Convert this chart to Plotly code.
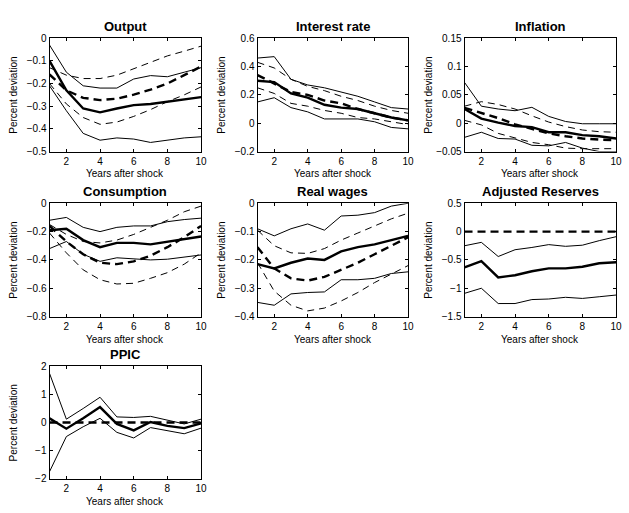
import plotly.graph_objects as go

years = list(range(1, 11))

# ---- Output
output_mid = [-0.10, -0.23, -0.31, -0.327, -0.31, -0.295, -0.29, -0.28, -0.27, -0.26]
output_hi = [-0.03, -0.15, -0.21, -0.22, -0.22, -0.18, -0.165, -0.17, -0.15, -0.13]
output_lo = [-0.21, -0.32, -0.42, -0.45, -0.44, -0.445, -0.46, -0.45, -0.44, -0.435]
output_model = [-0.16, -0.23, -0.263, -0.273, -0.267, -0.249, -0.227, -0.20, -0.163, -0.125]
output_model_hi = [-0.13, -0.163, -0.178, -0.178, -0.163, -0.135, -0.107, -0.078, -0.057, -0.035]
output_model_lo = [-0.20, -0.29, -0.35, -0.38, -0.37, -0.345, -0.315, -0.28, -0.25, -0.215]

# ---- Interest rate
rate_mid = [0.30, 0.29, 0.21, 0.18, 0.13, 0.11, 0.10, 0.07, 0.04, 0.02]
rate_hi = [0.46, 0.47, 0.31, 0.27, 0.25, 0.22, 0.19, 0.15, 0.11, 0.10]
rate_lo = [0.15, 0.18, 0.11, 0.08, 0.03, 0.03, 0.03, 0.01, -0.03, -0.04]
rate_model = [0.34, 0.28, 0.22, 0.20, 0.16, 0.14, 0.10, 0.07, 0.04, 0.02]
rate_model_hi = [0.43, 0.39, 0.31, 0.26, 0.23, 0.19, 0.16, 0.12, 0.09, 0.07]
rate_model_lo = [0.25, 0.21, 0.14, 0.12, 0.09, 0.07, 0.04, 0.03, 0.01, -0.01]

# ---- Inflation
infl_mid = [0.025, 0.008, 0.001, -0.005, -0.007, -0.016, -0.016, -0.021, -0.023, -0.027]
infl_hi = [0.072, 0.030, 0.025, 0.022, 0.028, 0.012, 0.003, -0.001, -0.001, -0.001]
infl_lo = [-0.025, -0.016, -0.027, -0.028, -0.039, -0.040, -0.034, -0.044, -0.050, -0.050]
infl_model = [0.027, 0.018, 0.009, -0.002, -0.010, -0.018, -0.023, -0.027, -0.029, -0.030]
infl_model_hi = [0.030, 0.038, 0.033, 0.025, 0.013, 0.002, -0.006, -0.012, -0.015, -0.016]
infl_model_lo = [0.005, -0.003, -0.018, -0.026, -0.034, -0.038, -0.044, -0.045, -0.045, -0.045]

# ---- Consumption
cons_mid = [-0.19, -0.18, -0.26, -0.31, -0.28, -0.28, -0.29, -0.27, -0.255, -0.235]
cons_hi = [-0.12, -0.10, -0.17, -0.20, -0.17, -0.16, -0.16, -0.13, -0.115, -0.105]
cons_lo = [-0.32, -0.27, -0.36, -0.41, -0.385, -0.39, -0.40, -0.395, -0.38, -0.365]
cons_model = [-0.16, -0.27, -0.36, -0.42, -0.43, -0.41, -0.37, -0.31, -0.24, -0.16]
cons_model_hi = [-0.15, -0.22, -0.27, -0.28, -0.26, -0.22, -0.17, -0.12, -0.06, -0.02]
cons_model_lo = [-0.21, -0.35, -0.47, -0.54, -0.57, -0.565, -0.53, -0.49, -0.43, -0.35]

# ---- Real wages
wage_mid = [-0.215, -0.23, -0.21, -0.195, -0.20, -0.17, -0.155, -0.145, -0.13, -0.115]
wage_hi = [-0.09, -0.115, -0.09, -0.073, -0.095, -0.045, -0.042, -0.033, -0.01, 0.0]
wage_lo = [-0.35, -0.36, -0.32, -0.315, -0.313, -0.27, -0.27, -0.265, -0.248, -0.242]
wage_model = [-0.155, -0.23, -0.265, -0.273, -0.26, -0.235, -0.21, -0.18, -0.15, -0.12]
wage_model_hi = [-0.095, -0.15, -0.175, -0.177, -0.16, -0.13, -0.105, -0.08, -0.055, -0.035]
wage_model_lo = [-0.21, -0.31, -0.36, -0.38, -0.37, -0.345, -0.315, -0.28, -0.25, -0.22]

# ---- Adjusted Reserves
res_mid = [-0.63, -0.52, -0.81, -0.77, -0.70, -0.65, -0.65, -0.62, -0.56, -0.54]
res_hi = [-0.25, -0.19, -0.44, -0.32, -0.28, -0.23, -0.26, -0.24, -0.16, -0.09]
res_lo = [-1.09, -1.00, -1.27, -1.27, -1.20, -1.19, -1.16, -1.18, -1.15, -1.12]
res_model = [0, 0, 0, 0, 0, 0, 0, 0, 0, 0]

# ---- PPIC
ppic_mid = [0.15, -0.22, 0.15, 0.55, -0.05, -0.28, 0.02, -0.12, -0.20, -0.03]
ppic_hi = [1.75, 0.12, 0.50, 0.90, 0.20, 0.18, 0.22, 0.08, -0.05, 0.12]
ppic_lo = [-1.75, -0.50, -0.15, 0.15, -0.35, -0.55, -0.18, -0.30, -0.40, -0.20]
ppic_model = [0, 0, 0, 0, 0, 0, 0, 0, 0, 0]

# ---- tick labels
x_ticks = [2, 4, 6, 8, 10]
output_yticks = [-0.5, -0.4, -0.3, -0.2, -0.1, 0]
output_ylabels = ["\u22120.5", "\u22120.4", "\u22120.3", "\u22120.2", "\u22120.1", "0"]
rate_yticks = [-0.2, 0, 0.2, 0.4, 0.6]
rate_ylabels = ["\u22120.2", "0", "0.2", "0.4", "0.6"]
infl_yticks = [-0.05, 0, 0.05, 0.1, 0.15]
infl_ylabels = ["\u22120.05", "0", "0.05", "0.1", "0.15"]
cons_yticks = [-0.8, -0.6, -0.4, -0.2, 0]
cons_ylabels = ["\u22120.8", "\u22120.6", "\u22120.4", "\u22120.2", "0"]
wage_yticks = [-0.4, -0.3, -0.2, -0.1, 0]
wage_ylabels = ["\u22120.4", "\u22120.3", "\u22120.2", "\u22120.1", "0"]
res_yticks = [-1.5, -1, -0.5, 0, 0.5]
res_ylabels = ["\u22121.5", "\u22121", "\u22120.5", "0", "0.5"]
ppic_yticks = [-2, -1, 0, 1, 2]
ppic_ylabels = ["\u22122", "\u22121", "0", "1", "2"]

panels = [
    dict(title="Output", mid=output_mid, hi=output_hi, lo=output_lo, model=output_model,
         model_hi=output_model_hi, model_lo=output_model_lo,
         yrange=[-0.5, 0], ytv=output_yticks, ytt=output_ylabels),
    dict(title="Interest rate", mid=rate_mid, hi=rate_hi, lo=rate_lo, model=rate_model,
         model_hi=rate_model_hi, model_lo=rate_model_lo,
         yrange=[-0.2, 0.6], ytv=rate_yticks, ytt=rate_ylabels),
    dict(title="Inflation", mid=infl_mid, hi=infl_hi, lo=infl_lo, model=infl_model,
         model_hi=infl_model_hi, model_lo=infl_model_lo,
         yrange=[-0.05, 0.15], ytv=infl_yticks, ytt=infl_ylabels),
    dict(title="Consumption", mid=cons_mid, hi=cons_hi, lo=cons_lo, model=cons_model,
         model_hi=cons_model_hi, model_lo=cons_model_lo,
         yrange=[-0.8, 0], ytv=cons_yticks, ytt=cons_ylabels),
    dict(title="Real wages", mid=wage_mid, hi=wage_hi, lo=wage_lo, model=wage_model,
         model_hi=wage_model_hi, model_lo=wage_model_lo,
         yrange=[-0.4, 0], ytv=wage_yticks, ytt=wage_ylabels),
    dict(title="Adjusted Reserves", mid=res_mid, hi=res_hi, lo=res_lo, model=res_model,
         model_hi=None, model_lo=None,
         yrange=[-1.5, 0.5], ytv=res_yticks, ytt=res_ylabels),
    dict(title="PPIC", mid=ppic_mid, hi=ppic_hi, lo=ppic_lo, model=ppic_model,
         model_hi=None, model_lo=None,
         yrange=[-2, 2], ytv=ppic_yticks, ytt=ppic_ylabels),
]

# ---- page geometry (pixels)
W, H = 629, 513
cols = [(50, 203), (260, 412), (469, 622)]
rows = [(33, 149), (202, 318), (369, 484)]


def px(x):
    return x / W


def py(y):
    return 1 - y / H


FONT = "Arial, Liberation Sans, Helvetica, sans-serif"
thin = dict(color="black", width=1)
thick = dict(color="black", width=2.4)
thin_dash = dict(color="black", width=1, dash="7px,5px")
thick_dash = dict(color="black", width=2.4, dash="8px,5px")

fig = go.Figure()
annotations = []
layout_axes = {}

for i, p in enumerate(panels):
    r, c = divmod(i, 3)
    x0, x1 = cols[c]
    y0, y1 = rows[r]
    n = i + 1
    xa = "x" if n == 1 else f"x{n}"
    ya = "y" if n == 1 else f"y{n}"

    series = [
        (p["hi"], thin), (p["lo"], thin),
        (p["model_hi"], thin_dash), (p["model_lo"], thin_dash),
        (p["mid"], thick), (p["model"], thick_dash),
    ]
    for vals, style in series:
        if vals is None:
            continue
        fig.add_trace(go.Scatter(x=years, y=vals, mode="lines", line=style,
                                 xaxis=xa, yaxis=ya, showlegend=False,
                                 hoverinfo="skip"))

    common = dict(showline=True, linecolor="black", linewidth=1, mirror="ticks",
                  ticks="inside", ticklen=3, tickcolor="black", tickwidth=1,
                  showgrid=False, zeroline=False,
                  tickfont=dict(family=FONT, size=10, color="black"))
    layout_axes["xaxis" if n == 1 else f"xaxis{n}"] = dict(
        domain=[px(x0), px(x1)], range=[1, 10], tickvals=x_ticks,
        anchor=ya, **common)
    layout_axes["yaxis" if n == 1 else f"yaxis{n}"] = dict(
        domain=[py(y1), py(y0)], range=p["yrange"], tickvals=p["ytv"],
        ticktext=p["ytt"], anchor=xa, **common)

    cx = (x0 + x1) / 2
    annotations.append(dict(text="<b>" + p["title"] + "</b>", x=px(cx), y=py(y0 - 12.5),
                            xref="paper", yref="paper", xanchor="center", yanchor="middle",
                            showarrow=False, font=dict(family=FONT, size=13, color="black")))
    annotations.append(dict(text="Years after shock", x=px(cx), y=py(y1 + 23),
                            xref="paper", yref="paper", xanchor="center", yanchor="middle",
                            showarrow=False, font=dict(family=FONT, size=10, color="black")))
    annotations.append(dict(text="Percent deviation", x=px(x0 - 36), y=py((y0 + y1) / 2),
                            xref="paper", yref="paper", xanchor="center", yanchor="middle",
                            textangle=-90, showarrow=False,
                            font=dict(family=FONT, size=10, color="black")))

fig.update_layout(width=W, height=H, margin=dict(l=0, r=0, t=0, b=0),
                  paper_bgcolor="white", plot_bgcolor="white",
                  annotations=annotations, **layout_axes)

fig.write_html("out.html")
